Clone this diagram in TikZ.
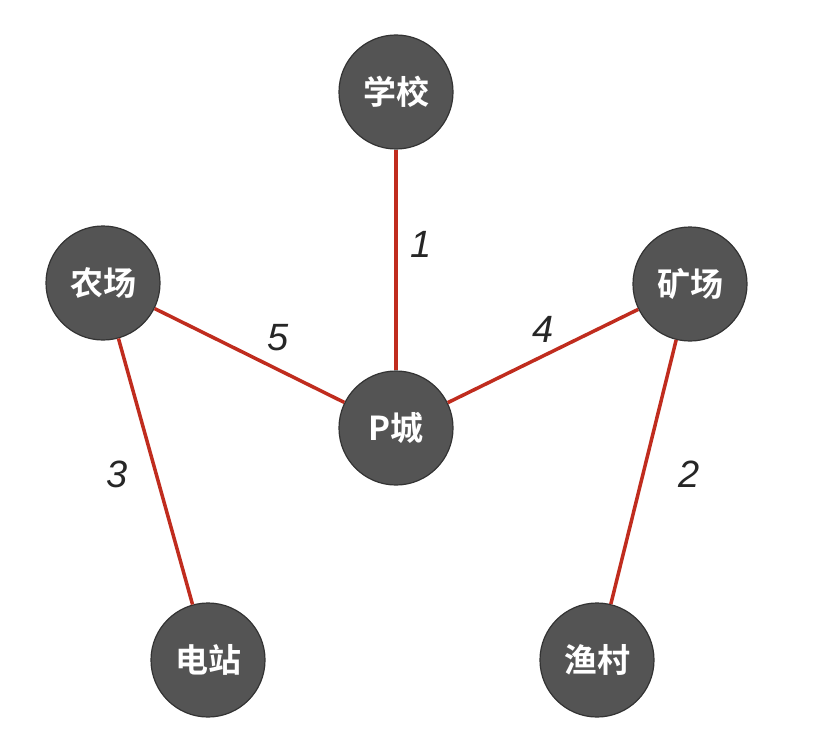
\documentclass[tikz,border=0pt]{standalone}
\usepackage{fontspec}
\newfontfamily\cjk{Noto Sans CJK SC}[BoldFont={* Bold}]
\newfontfamily\numfont{Liberation Sans}
\definecolor{roadred}{RGB}{192,44,30}
\begin{document}
\begin{tikzpicture}[x=1pt,y=-1pt,
  city/.style={circle,fill=black!67,draw=black!80,line width=1.2pt,minimum size=114pt,inner sep=0pt,text=white,font=\cjk\bfseries\fontsize{33}{33}\selectfont},
  road/.style={draw=roadred,line width=3.5pt},
  wt/.style={font=\numfont\itshape\fontsize{38}{38}\selectfont,text=black!85}]
\useasboundingbox (0,0) rectangle (835,733);
\fill[white] (0,0) rectangle (835,733);
\node[city] (school) at (396,92) {学校};
\node[city] (farm) at (103,283) {农场};
\node[city] (mine) at (690,284) {矿场};
\node[city] (p) at (396,428) {P城};
\node[city] (power) at (208,660) {电站};
\node[city] (fish) at (597,660) {渔村};
\draw[road] (school) -- (p);
\draw[road] (farm) -- (p);
\draw[road] (mine) -- (p);
\draw[road] (farm) -- (power);
\draw[road] (mine) -- (fish);
\node[wt] (w1) at (421,244) {1};
\node[wt] (w5) at (278,338) {5};
\node[wt] (w4) at (543,329) {4};
\node[wt] (w3) at (117,474) {3};
\node[wt] (w2) at (689,474) {2};
\end{tikzpicture}
\end{document}
